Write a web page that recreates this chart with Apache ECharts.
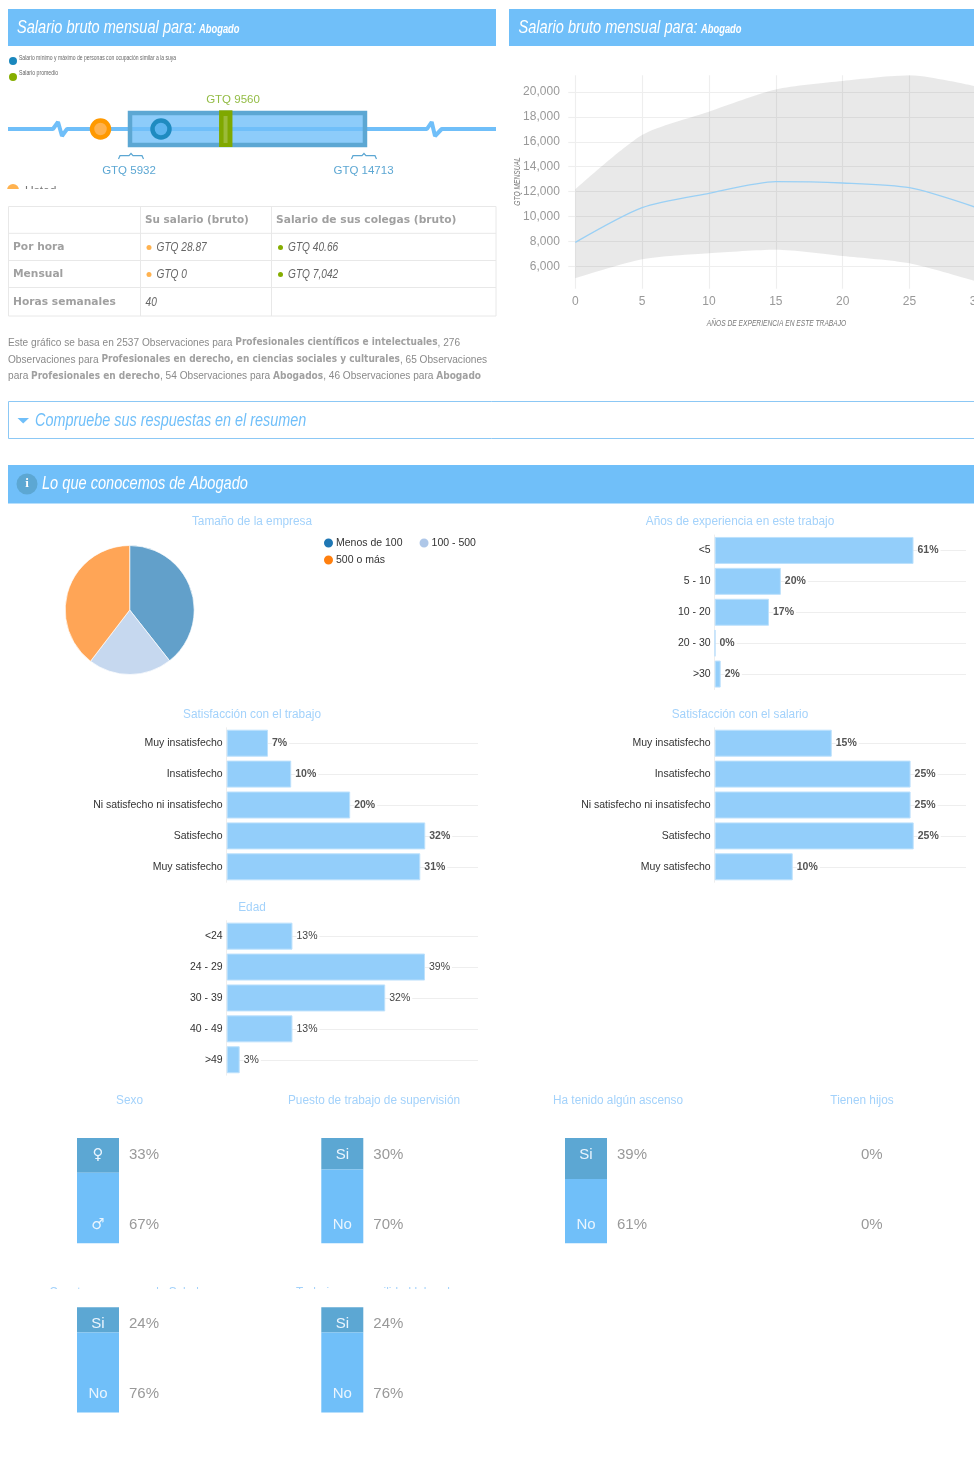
<!DOCTYPE html>
<html><head><meta charset="utf-8">
<style>html,body{margin:0;padding:0;background:#fff}#c{width:974px;height:1464px}</style>
<script src="https://cdn.jsdelivr.net/npm/echarts@6/dist/echarts.min.js"></script>
</head><body><div id="c"></div>
<script>
// ---- data ----
const expYears = ['0','5','10','15','20','25','30'];
const salaryLow = [5040,6560,7040,7330,6830,6240,4780];
const salaryHigh = [12180,16550,18420,20200,20880,21340,20440];
const salaryMean = [7920,10710,11860,12800,12690,12310,10720];
const yTicks = [6000,8000,10000,12000,14000,16000,18000,20000];

const rangeLow = 5932, rangeHigh = 14713, avgPos = 9510, youPos = 4830, colleaguePos = 7090;
const trackX = [1373,3055,3242,3391,3578,17030,17206,17330,17580,19609];
const trackY = [0,0,7,-7,0,0,7,-7,0,0];

const pieNames = ['Menos de 100','100 - 500','500 o más'];
const pieValues = [39.4,21,39.6];

const expCats = ['<5','5 - 10','10 - 20','20 - 30','>30'];
const expVals = [61,20.3,16.65,0.2,1.84];
const expLabels = [61,20,17,0,2];
const satCats = ['Muy insatisfecho','Insatisfecho','Ni satisfecho ni insatisfecho','Satisfecho','Muy satisfecho'];
const jobVals = [6.66,10.4,19.9,32,31.2];
const jobLabels = [7,10,20,32,31];
const payVals = [15,25.1,25.1,25.5,10];
const payLabels = [15,25,25,25,10];
const ageCats = ['<24','24 - 29','30 - 39','40 - 49','>49'];
const ageVals = [12.9,38.9,31.1,12.9,2.55];
const ageLabels = [13,39,32,13,3];

const stackTitles = ['Sexo','Puesto de trabajo de supervisión','Ha tenido algún ascenso','Tienen hijos','Cuenta con seguro de Salud','Trabajo con movilidad laboral'];
const stackTop = [33,30,39,0,24,24];
const stackBottom = [67,70,61,0,76,76];
const stackTopLabel = ['♀','Si','Si','','Si','Si'];
const stackBottomLabel = ['♂','No','No','','No','No'];

const tableHead = ['', 'Su salario (bruto)', 'Salario de sus colegas (bruto)'];
const tableRows = [['Por hora','GTQ 28.87','GTQ 40.66'],['Mensual','GTQ 0','GTQ 7,042'],['Horas semanales','40','']];

// ---- style ----
const F = '"Liberation Sans",Arial,sans-serif';
const BLUE='#70bff9', DARK='#5ca7d3', TITLE='#a3d2fb', GRIDC='#eeeeee';
const gfx = [];
function T(text,x,y,o){o=o||{};return {type:'text',x:x,y:y,scaleX:o.sx||1,z:o.z||10,silent:true,style:{text:text,x:0,y:0,fill:o.c||'#888',
  font:(o.i?'italic ':'')+(o.w||'normal')+' '+(o.s||12)+'px '+(o.f||F),align:o.a||'left',verticalAlign:'middle'}};}
function R(x,y,w,h,fill,o){o=o||{};return {type:'rect',z:o.z||1,silent:true,shape:{x:x,y:y,width:w,height:h},style:{fill:fill,stroke:o.s||null,lineWidth:o.lw||0}};}
function L(x1,y1,x2,y2,c){return {type:'line',z:1,silent:true,shape:{x1:x1,y1:y1,x2:x2,y2:y2},style:{stroke:c,lineWidth:1}};}
function C(x,y,r,fill,z){return {type:'circle',z:z||10,silent:true,shape:{cx:x,cy:y,r:r},style:{fill:fill}};}

// headers
gfx.push(R(8,9,488,37,BLUE),R(509,9,465,37,BLUE));
gfx.push(T('Salario bruto mensual para:',17,28,{s:18,i:1,c:'#fff',sx:.81}),T('Abogado',199,29.5,{s:12,i:1,w:'bold',c:'#fff',sx:.78}));
gfx.push(T('Salario bruto mensual para:',518.5,28,{s:18,i:1,c:'#fff',sx:.81}),T('Abogado',701,29.5,{s:12,i:1,w:'bold',c:'#fff',sx:.78}));
// box legend
gfx.push(C(13,61,4,'#1a87bd'),T('Salario mínimo y máximo de personas con ocupación similar a la suya',19,58,{s:7,c:'#666',sx:.72}));
gfx.push(C(13,77,4,'#85ad00'),T('Salario promedio',19,73.5,{s:7,c:'#666',sx:.74}));
gfx.push(T('GTQ 9560',233,99.5,{s:11.5,c:'#93bc45',a:'center'}));
gfx.push(T('GTQ 5932',129,170.5,{s:11.5,c:'#5ca7d3',a:'center'}),T('GTQ 14713',363.5,170.5,{s:11.5,c:'#5ca7d3',a:'center'}));
gfx.push(C(13,190,6,'#ffb24f',5),T('Usted',25,191.5,{s:12,c:'#777',z:5}),R(0,189,500,16,'#fff',{z:6}));
// table
const colX=[8,140.5,271.5,496], rowY=[206,233.3,260.5,287.5,316], tb='#e8e8e8';
gfx.push(R(8.5,206.5,487.5,109.5,'#fff',{s:tb,lw:1}));
[1,2].forEach(i=>gfx.push(L(colX[i],206,colX[i],316,tb)));
[1,2,3].forEach(i=>gfx.push(L(8,rowY[i],496,rowY[i],tb)));
const B='"DejaVu Sans",sans-serif';
gfx.push(T(tableHead[1],145,220.5,{s:11,f:B,c:'#a0a0a0',w:'bold',sx:.95}),T(tableHead[2],276,220.5,{s:11,f:B,c:'#a0a0a0',w:'bold',sx:.97}));
tableRows.forEach((r,i)=>{
  const y=[247.5,274.5,302][i];
  gfx.push(T(r[0],13,y,{s:11,f:B,c:'#a0a0a0',w:'bold',sx:.97}));
  if(i<2){gfx.push(C(149,y,2.5,'#ffb24f'),C(280.5,y,2.5,'#85ad00'));
    gfx.push(T(r[1],156.5,y,{s:13,i:1,c:'#666',sx:.78}),T(r[2],288,y,{s:13,i:1,c:'#666',sx:.78}));}
  else gfx.push(T(r[1],145.5,y,{s:13,i:1,c:'#666',sx:.78}));
});
// paragraph
const pr={a:{font:'11px '+F,fill:'#8a8a8a'},b:{font:'bold 9.8px '+B,fill:'#a0a0a0'}};
[['{a|Este gráfico se basa en 2537 Observaciones para }{b|Profesionales científicos e intelectuales}{a|, 276}',342.5],
 ['{a|Observaciones para }{b|Profesionales en derecho, en ciencias sociales y culturales}{a|, 65 Observaciones}',359.5],
 ['{a|para }{b|Profesionales en derecho}{a|, 54 Observaciones para }{b|Abogados}{a|, 46 Observaciones para }{b|Abogado}',376]
].forEach(p=>gfx.push({type:'text',x:8,y:p[1],scaleX:.92,z:10,silent:true,style:{text:p[0],rich:pr,verticalAlign:'middle'}}));
// collapsible
gfx.push(R(8.5,401.5,975,37,'#fff',{s:'#8cc8f5',lw:1}));
gfx.push({type:'polygon',z:10,silent:true,shape:{points:[[17.5,418],[29,418],[23.2,423.5]]},style:{fill:BLUE}});
gfx.push(T('Compruebe sus respuestas en el resumen',35,420.5,{s:18,i:1,c:BLUE,sx:.80}));
gfx.push(R(8,465,966,38.5,BLUE));
gfx.push(C(27,484,10.5,DARK),T('i',27,484,{s:13,w:'bold',c:'#fff',a:'center',f:'"Liberation Serif",serif'}));
gfx.push(T('Lo que conocemos de Abogado',42,484,{s:18,i:1,c:'#fff',sx:.81}));
// chart titles
[['Tamaño de la empresa',252,522],['Años de experiencia en este trabajo',740,522],['Satisfacción con el trabajo',252,715],['Satisfacción con el salario',740,715],['Edad',252,908]]
 .forEach(t=>gfx.push(T(t[0],t[1],t[2],{s:12.5,c:TITLE,a:'center',sx:.945})));
// line chart axis names
gfx.push(T('AÑOS DE EXPERIENCIA EN ESTE TRABAJO',776.5,323.5,{s:9,i:1,c:'#777',a:'center',sx:.74}));
gfx.push(Object.assign(T('GTQ MENSUAL',517,181.5,{s:9,i:1,c:'#777',a:'center',sx:.74}),{rotation:Math.PI/2}));

// ---- grids ----
const grids=[],xAxes=[],yAxes=[],series=[];
function addAxes(g,x,y){grids.push(Object.assign({outerBoundsMode:'none'},g));xAxes.push(Object.assign({gridIndex:grids.length-1},x));yAxes.push(Object.assign({gridIndex:grids.length-1},y));return grids.length-1;}

// salary range strip
const stripIdx=addAxes({left:8,top:113,width:488,height:32},{type:'value',min:1373,max:19609,show:false},{type:'value',min:-16,max:16,show:false});
series.push({type:'line',xAxisIndex:stripIdx,yAxisIndex:stripIdx,data:trackX.map((v,i)=>[v,trackY[i]]),showSymbol:false,clip:false,z:2,silent:true,lineStyle:{color:BLUE,width:4},animation:false});
series.push({type:'custom',xAxisIndex:stripIdx,yAxisIndex:stripIdx,z:3,silent:true,animation:false,clip:false,data:[[rangeLow,rangeHigh,avgPos]],
 renderItem:function(p,api){
  const a=api.coord([api.value(0),16]),b=api.coord([api.value(1),-16]),m=api.coord([api.value(2),0]);
  const brace=function(cx){const y=155.7;return {type:'polyline',shape:{points:[[cx-12.5,159],[cx-11,y],[cx-2,y],[cx,y-2.2],[cx+2,y],[cx+11,y],[cx+12.5,159]]},style:{stroke:DARK,fill:null,lineWidth:1.2}};};
  return {type:'group',children:[
   {type:'rect',shape:{x:a[0],y:a[1],width:b[0]-a[0],height:b[1]-a[1]},style:{fill:'rgba(112,191,249,.8)',stroke:DARK,lineWidth:4.5}},
   {type:'rect',shape:{x:m[0]-6.7,y:110.3,width:13.4,height:36.7},style:{fill:'#7fa800'}},
   {type:'rect',shape:{x:m[0]-2.2,y:116,width:4,height:27},style:{fill:'rgba(255,255,255,.22)'}},
   brace(a[0]+1),brace(b[0]-1)
  ]};
 }});
series.push({type:'scatter',xAxisIndex:stripIdx,yAxisIndex:stripIdx,z:4,silent:true,animation:false,data:[[youPos,0]],symbolSize:17,itemStyle:{color:'#ffb24f',borderColor:'#ff9900',borderWidth:4.5,opacity:1}});
series.push({type:'scatter',xAxisIndex:stripIdx,yAxisIndex:stripIdx,z:4,silent:true,animation:false,data:[[colleaguePos,0]],symbolSize:17,itemStyle:{color:'#5cb4ef',borderColor:'#1f8bc0',borderWidth:4.5,opacity:1}});

// line chart
const lineIdx=addAxes({left:575.3,top:75.3,width:401,height:213.4},
 {type:'category',data:expYears,boundaryGap:false,axisLine:{show:false},axisTick:{show:false},splitLine:{show:true,interval:0,lineStyle:{color:GRIDC,width:1.2}},axisLabel:{interval:0,color:'#999',fontSize:12,fontFamily:F,margin:7,hideOverlap:false}},
 {type:'value',min:4200,max:21340,axisLine:{show:false},axisTick:{show:true,length:7,customValues:yTicks,lineStyle:{color:GRIDC,width:1.2}},splitLine:{show:true,lineStyle:{color:GRIDC,width:1.2}},
  axisLabel:{customValues:yTicks,color:'#999',fontSize:12,fontFamily:F,margin:15.5,padding:[2,0,0,0],formatter:v=>v.toLocaleString('en-US')}});
series.push({type:'line',xAxisIndex:lineIdx,yAxisIndex:lineIdx,stack:'band',data:salaryLow,smooth:.25,showSymbol:false,lineStyle:{width:0},silent:true,animation:false,z:1});
series.push({type:'line',xAxisIndex:lineIdx,yAxisIndex:lineIdx,stack:'band',data:salaryHigh.map((h,i)=>h-salaryLow[i]),smooth:.25,showSymbol:false,lineStyle:{width:0},areaStyle:{color:'rgba(120,120,120,.16)',opacity:1},silent:true,animation:false,z:1});
series.push({type:'line',xAxisIndex:lineIdx,yAxisIndex:lineIdx,data:salaryMean,smooth:.25,showSymbol:false,lineStyle:{width:1.3,color:'#9ad0f5'},silent:true,animation:false,z:2});

// pie
series.push({type:'pie',center:[129.7,610],radius:[0,64.5],silent:true,animation:false,label:{show:false},labelLine:{show:false},startAngle:90,
 itemStyle:{borderColor:'#fff',borderWidth:1},
 data:pieNames.map((n,i)=>({name:n,value:pieValues[i],itemStyle:{color:['#1f77b4','#aec7e8','#ff7f0e'][i],opacity:.7}}))});

// bars
function barChart(left,top,cats,vals,labels,max,bold){
 const idx=addAxes({left:left,top:top,width:251.3,height:154.5},
  {type:'value',min:0,max:max,show:false},
  {type:'category',inverse:true,data:cats,axisLine:{show:true,lineStyle:{color:'#eee'}},axisTick:{show:false},
   splitLine:{show:true,alignWithLabel:true,lineStyle:{color:GRIDC,width:1}},
   axisLabel:{margin:4,fontSize:10.5,color:'#333',fontFamily:F,interval:0,padding:[2,0,0,0]}});
 series.push({type:'bar',xAxisIndex:idx,yAxisIndex:idx,barWidth:27,silent:true,animation:false,
  itemStyle:{color:'#93cefa',borderColor:'#bde1fc',borderWidth:1},
  label:{show:true,position:'right',distance:4,fontSize:10.5,fontFamily:F,color:bold?'#555':'#444',fontWeight:bold?'bold':'normal',backgroundColor:'#fff',padding:[2,2,0,0],
   formatter:p=>labels[p.dataIndex]+'%'},
  data:vals});
}
barChart(714.7,535,expCats,expVals,expLabels,77.1,true);
barChart(226.7,727.75,satCats,jobVals,jobLabels,40.5,true);
barChart(714.7,727.75,satCats,payVals,payLabels,32.2,true);
barChart(226.7,920.7,ageCats,ageVals,ageLabels,49.3,false);

// stacks
const stackPos=[[77,1138],[321.3,1138],[565,1138],[809,1138],[77,1307.2],[321.3,1307.2]];
stackTitles.forEach((t,i)=>{
 const x=stackPos[i][0], y=stackPos[i][1];
 const idx=addAxes({left:x,top:y,width:42,height:105.3},{type:'category',data:[''],show:false},{type:'value',inverse:true,min:0,max:100,show:false});
 series.push({type:'bar',stack:'s'+i,xAxisIndex:idx,yAxisIndex:idx,barWidth:42,silent:true,animation:false,itemStyle:{color:DARK},data:[stackTop[i]]});
 series.push({type:'bar',stack:'s'+i,xAxisIndex:idx,yAxisIndex:idx,barWidth:42,silent:true,animation:false,itemStyle:{color:BLUE},data:[stackBottom[i]]});
 const y1=y+17, y2=y+87;
 if(stackTopLabel[i]){
  const sym=i===0?'"DejaVu Sans",sans-serif':F;
  gfx.push(T(stackTopLabel[i],x+21,y1,{s:15,c:'#eaf5fe',a:'center',f:sym}),T(stackBottomLabel[i],x+21,y2,{s:15,c:'#eaf5fe',a:'center',f:sym}));
 }
 gfx.push(T(stackTop[i]+'%',x+52,y1,{s:15,c:'#999'}),T(stackBottom[i]+'%',x+52,y2,{s:15,c:'#999'}));
 const tx=[129.5,374,618,862,124,373][i], ty=i<4?1101:1293;
 gfx.push(T(t,tx,ty,{s:12.5,c:TITLE,a:'center',z:5,sx:.945}));
});
gfx.push(R(0,1289,500,17.5,'#fff',{z:6}));

const legendBase={icon:'circle',itemWidth:11,itemHeight:11,itemGap:15,padding:0,selectedMode:false,itemStyle:{opacity:1},
  textStyle:{fontSize:10.5,color:'#333',fontFamily:F,padding:[0,0,0,-3]}};
const chart=echarts.init(document.getElementById('c'),null,{renderer:'canvas',width:974,height:1464});
chart.setOption({animation:false,backgroundColor:'#fff',
 legend:[Object.assign({left:322,top:536.5,data:pieNames.slice(0,2)},legendBase),Object.assign({left:322,top:553.5,data:pieNames.slice(2)},legendBase)],
 grid:grids,xAxis:xAxes,yAxis:yAxes,series:series,graphic:{elements:gfx}});
</script></body></html>
